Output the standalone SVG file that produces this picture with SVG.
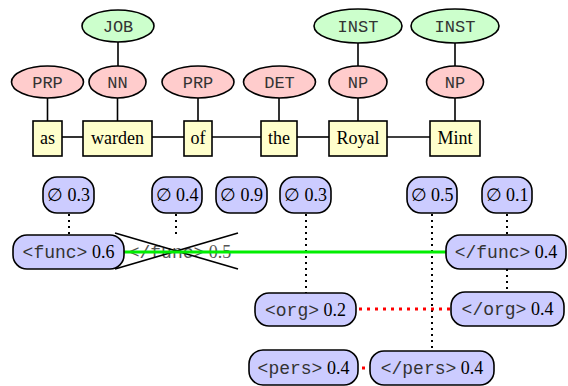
<svg xmlns="http://www.w3.org/2000/svg" width="568" height="386" viewBox="0 0 568 386">
<style>
.g{fill:#ccffcc;stroke:#000;stroke-width:1.6}
.p{fill:#ffcccc;stroke:#000;stroke-width:1.6}
.w{fill:#ffffcc;stroke:#000;stroke-width:1.6}
.b{fill:#ccccff;stroke:#000;stroke-width:1.6}
.lt{font-family:"Liberation Mono",monospace;font-size:17px;fill:#333;text-anchor:middle}
.wt{font-family:"Liberation Serif",serif;font-size:18px;fill:#000;text-anchor:middle}
.bt{font-family:"Liberation Serif","DejaVu Serif",serif;font-size:18px;fill:#000;text-anchor:middle}
.m{font-family:"Liberation Mono",monospace;fill:#333}
.ln{stroke:#000;stroke-width:1.6;fill:none}
.dt{stroke:#000;stroke-width:2;stroke-dasharray:2 4;fill:none}
.rd{stroke:#ff0000;stroke-width:3;stroke-dasharray:3 5;fill:none}
</style>
<g id="connectors">
<line class="ln" x1="118" y1="42" x2="118" y2="66"/>
<line class="ln" x1="358" y1="43" x2="358" y2="66"/>
<line class="ln" x1="455" y1="43" x2="455" y2="66"/>
<line class="ln" x1="47.5" y1="98" x2="47.5" y2="121"/>
<line class="ln" x1="117.5" y1="98" x2="117.5" y2="121"/>
<line class="ln" x1="198" y1="98" x2="198" y2="121"/>
<line class="ln" x1="279" y1="98" x2="279" y2="121"/>
<line class="ln" x1="358" y1="98" x2="358" y2="121"/>
<line class="ln" x1="455" y1="98" x2="455" y2="121"/>
<line class="ln" x1="62" y1="137" x2="83" y2="137"/>
<line class="ln" x1="152" y1="137" x2="184" y2="137"/>
<line class="ln" x1="212" y1="137" x2="261" y2="137"/>
<line class="ln" x1="297" y1="137" x2="329" y2="137"/>
<line class="ln" x1="387" y1="137" x2="430" y2="137"/>
<line class="dt" x1="69" y1="214" x2="69" y2="235"/>
<line class="dt" x1="176" y1="214" x2="176" y2="235"/>
<line class="dt" x1="306" y1="214" x2="306" y2="293"/>
<line class="dt" x1="432" y1="214" x2="432" y2="351"/>
<line class="dt" x1="507" y1="214" x2="507" y2="235"/>
<line class="dt" x1="507" y1="269" x2="507" y2="292"/>
<line class="rd" x1="359" y1="309" x2="451" y2="309"/>
<line class="rd" x1="362" y1="368" x2="370" y2="368"/>
</g>
<g id="removed">
<text class="bt" x="180" y="258" style="fill:#555"><tspan class="m" style="fill:#555">&lt;/func&gt;</tspan> 0.5</text>
<line class="ln" x1="115" y1="233" x2="238" y2="269"/>
<line class="ln" x1="115" y1="269" x2="238" y2="233"/>
<line x1="124" y1="252" x2="446" y2="252" stroke="#00ee00" stroke-width="3"/>
</g>
<g id="JOB"><ellipse class="g" cx="118" cy="26" rx="36" ry="16"/><text class="lt" x="118" y="32">JOB</text></g>
<g id="INST1"><ellipse class="g" cx="358" cy="26" rx="44" ry="17"/><text class="lt" x="358" y="32">INST</text></g>
<g id="INST2"><ellipse class="g" cx="455" cy="26" rx="44" ry="17"/><text class="lt" x="455" y="32">INST</text></g>
<g id="PRP1"><ellipse class="p" cx="47.5" cy="82" rx="36" ry="16"/><text class="lt" x="47.5" y="88">PRP</text></g>
<g id="NN"><ellipse class="p" cx="117.5" cy="82" rx="28.5" ry="16"/><text class="lt" x="117.5" y="88">NN</text></g>
<g id="PRP2"><ellipse class="p" cx="198" cy="82" rx="36" ry="16"/><text class="lt" x="198" y="88">PRP</text></g>
<g id="DET"><ellipse class="p" cx="279.5" cy="82" rx="36" ry="16"/><text class="lt" x="279.5" y="88">DET</text></g>
<g id="NP1"><ellipse class="p" cx="358" cy="82" rx="29" ry="16"/><text class="lt" x="358" y="88">NP</text></g>
<g id="NP2"><ellipse class="p" cx="455" cy="82" rx="28.5" ry="16"/><text class="lt" x="455" y="88">NP</text></g>
<g id="w-as"><rect class="w" x="33" y="121" width="29" height="35"/><text class="wt" x="47.5" y="144">as</text></g>
<g id="w-warden"><rect class="w" x="83" y="121" width="69" height="35"/><text class="wt" x="117.5" y="144">warden</text></g>
<g id="w-of"><rect class="w" x="184" y="121" width="28" height="35"/><text class="wt" x="198" y="144">of</text></g>
<g id="w-the"><rect class="w" x="261" y="121" width="36" height="35"/><text class="wt" x="279" y="144">the</text></g>
<g id="w-Royal"><rect class="w" x="329" y="121" width="58" height="35"/><text class="wt" x="358" y="144">Royal</text></g>
<g id="w-Mint"><rect class="w" x="430" y="121" width="50" height="35"/><text class="wt" x="455" y="144">Mint</text></g>
<g id="e1"><rect class="b" x="43" y="177" width="51" height="36" rx="14"/><text class="bt" x="68.5" y="201">∅ 0.3</text></g>
<g id="e2"><rect class="b" x="152" y="177" width="50" height="36" rx="14"/><text class="bt" x="177" y="201">∅ 0.4</text></g>
<g id="e3"><rect class="b" x="216" y="177" width="51" height="36" rx="14"/><text class="bt" x="241.5" y="201">∅ 0.9</text></g>
<g id="e4"><rect class="b" x="280" y="177" width="51" height="36" rx="14"/><text class="bt" x="305.5" y="201">∅ 0.3</text></g>
<g id="e5"><rect class="b" x="407" y="177" width="50" height="36" rx="14"/><text class="bt" x="432" y="201">∅ 0.5</text></g>
<g id="e6"><rect class="b" x="482" y="177" width="50" height="36" rx="14"/><text class="bt" x="507" y="201">∅ 0.1</text></g>
<g id="func-open"><rect class="b" x="13" y="235" width="111" height="34" rx="14"/><text class="bt" x="68.5" y="258"><tspan class="m">&lt;func&gt;</tspan> 0.6</text></g>
<g id="func-close"><rect class="b" x="446" y="235" width="120" height="34" rx="14"/><text class="bt" x="506" y="258"><tspan class="m">&lt;/func&gt;</tspan> 0.4</text></g>
<g id="org-open"><rect class="b" x="255" y="293" width="101" height="33" rx="14"/><text class="bt" x="305.5" y="316"><tspan class="m">&lt;org&gt;</tspan> 0.2</text></g>
<g id="org-close"><rect class="b" x="451" y="292" width="113" height="34" rx="14"/><text class="bt" x="507.5" y="315"><tspan class="m">&lt;/org&gt;</tspan> 0.4</text></g>
<g id="pers-open"><rect class="b" x="249" y="350" width="109" height="35" rx="14"/><text class="bt" x="303.5" y="374"><tspan class="m">&lt;pers&gt;</tspan> 0.4</text></g>
<g id="pers-close"><rect class="b" x="370" y="351" width="124" height="34" rx="14"/><text class="bt" x="432" y="374"><tspan class="m">&lt;/pers&gt;</tspan> 0.4</text></g>
</svg>
